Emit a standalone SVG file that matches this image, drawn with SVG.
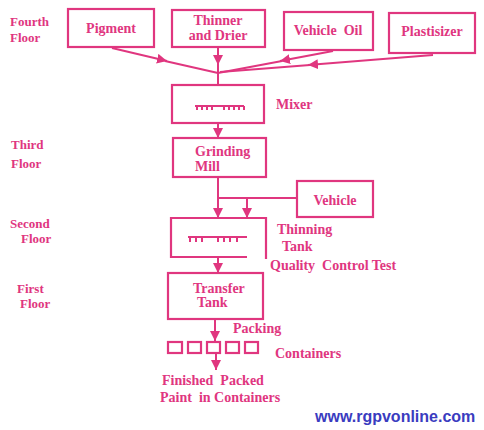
<svg xmlns="http://www.w3.org/2000/svg" width="484" height="430" viewBox="0 0 484 430">
<style>
  .t { font-family: "Liberation Serif", "Times New Roman", serif; font-weight: bold; font-size: 14px; fill: #e0367f; white-space: pre; }
  .f { font-size: 13px; }
  .box { fill: none; stroke: #e0367f; stroke-width: 2.2; }
  .ln { fill: none; stroke: #e0367f; stroke-width: 2; }
  .url { font-family: "Liberation Sans", Arial, sans-serif; font-weight: bold; font-size: 16px; fill: #3a3cc0; }
</style>
<defs>
  <marker id="ah" viewBox="0 0 10 10" refX="10" refY="5" markerWidth="5" markerHeight="5" orient="auto" markerUnits="strokeWidth">
    <path d="M0,0 L10,5 L0,10 z" fill="#e0367f"/>
  </marker>
</defs>
<rect width="484" height="430" fill="#ffffff"/>

<g id="floors">
  <text class="t f" x="10" y="26">Fourth</text>
  <text class="t f" x="10" y="42">Floor</text>
  <text class="t f" x="11" y="149">Third</text>
  <text class="t f" x="11" y="168">Floor</text>
  <text class="t f" x="10" y="228">Second</text>
  <text class="t f" x="21" y="243">Floor</text>
  <text class="t f" x="17" y="293">First</text>
  <text class="t f" x="20" y="308">Floor</text>
</g>

<g id="pigment">
  <rect class="box" x="68" y="9" width="86" height="38"/>
  <text class="t" x="111" y="33" text-anchor="middle">Pigment</text>
</g>
<g id="thinner">
  <rect class="box" x="172" y="10" width="93" height="37"/>
  <text class="t" x="218" y="25" text-anchor="middle">Thinner</text>
  <text class="t" x="218" y="40" text-anchor="middle">and Drier</text>
</g>
<g id="vehicle-oil">
  <rect class="box" x="284" y="12" width="89" height="38"/>
  <text class="t" x="328" y="35" text-anchor="middle">Vehicle  Oil</text>
</g>
<g id="plastisizer">
  <rect class="box" x="389" y="13" width="86" height="40"/>
  <text class="t" x="432" y="36" text-anchor="middle">Plastisizer</text>
</g>

<g id="mixer">
  <rect class="box" x="172" y="85" width="92" height="38"/>
  <path class="ln" d="M195,106 H244 M197,106 V110 M202,106 V110 M207,106 V110 M212,106 V110 M224,106 V110 M229,106 V110 M234,106 V110 M239,106 V110 M244,106 V110" stroke-width="1.6"/>
  <text class="t" x="276" y="109">Mixer</text>
</g>

<g id="grinding-mill">
  <rect class="box" x="173" y="138" width="93" height="39"/>
  <text class="t" x="195" y="156">Grinding</text>
  <text class="t" x="195" y="171">Mill</text>
</g>

<g id="vehicle">
  <rect class="box" x="297" y="181" width="76" height="36"/>
  <text class="t" x="335" y="205" text-anchor="middle">Vehicle</text>
</g>

<g id="thinning-tank">
  <path class="box" d="M247,257 H171 V218 H266 V259"/>
  <path class="ln" d="M188,237 H247 M190,237 V242 M196,237 V242 M202,237 V242 M218,237 V242 M224,237 V242 M230,237 V242 M237,237 V242" stroke-width="1.6"/>
  <text class="t" x="277" y="234">Thinning</text>
  <text class="t" x="282" y="251">Tank</text>
  <text class="t" x="270" y="270">Quality  Control Test</text>
</g>

<g id="transfer-tank">
  <rect class="box" x="168" y="273" width="95" height="46"/>
  <text class="t" x="193" y="293">Transfer</text>
  <text class="t" x="197" y="307">Tank</text>
</g>

<g id="containers">
  <rect class="box" x="168" y="342" width="14" height="11"/>
  <rect class="box" x="188" y="342" width="13" height="11"/>
  <rect class="box" x="207" y="342" width="13" height="11"/>
  <rect class="box" x="226" y="342" width="13" height="11"/>
  <rect class="box" x="245" y="342" width="13" height="11"/>
  <text class="t" x="233" y="333">Packing</text>
  <text class="t" x="275" y="358">Containers</text>
</g>

<g id="finished">
  <text class="t" x="162" y="385">Finished  Packed</text>
  <text class="t" x="160" y="402">Paint  in Containers</text>
</g>

<g id="connectors">
  <line class="ln" x1="112" y1="48" x2="167" y2="61" marker-end="url(#ah)"/>
  <line class="ln" x1="165" y1="61" x2="218" y2="73"/>
  <line class="ln" x1="218" y1="47" x2="218" y2="65" marker-end="url(#ah)"/>
  <line class="ln" x1="218" y1="63" x2="218" y2="85"/>
  <line class="ln" x1="333" y1="51" x2="280" y2="61" marker-end="url(#ah)"/>
  <line class="ln" x1="282" y1="61" x2="218" y2="73"/>
  <line class="ln" x1="433" y1="55" x2="308" y2="65" marker-end="url(#ah)"/>
  <line class="ln" x1="310" y1="65" x2="220" y2="72"/>
  <line class="ln" x1="218" y1="123" x2="218" y2="138" marker-end="url(#ah)"/>
  <line class="ln" x1="218" y1="177" x2="218" y2="218" marker-end="url(#ah)"/>
  <line class="ln" x1="297" y1="198" x2="218" y2="198"/>
  <line class="ln" x1="247" y1="198" x2="247" y2="218" marker-end="url(#ah)"/>
  <line class="ln" x1="218" y1="258" x2="218" y2="273" marker-end="url(#ah)"/>
  <line class="ln" x1="215" y1="319" x2="215" y2="341" marker-end="url(#ah)"/>
  <line class="ln" x1="216" y1="353" x2="216" y2="370" marker-end="url(#ah)"/>
</g>

<text class="url" x="315" y="422">www.rgpvonline.com</text>
</svg>
